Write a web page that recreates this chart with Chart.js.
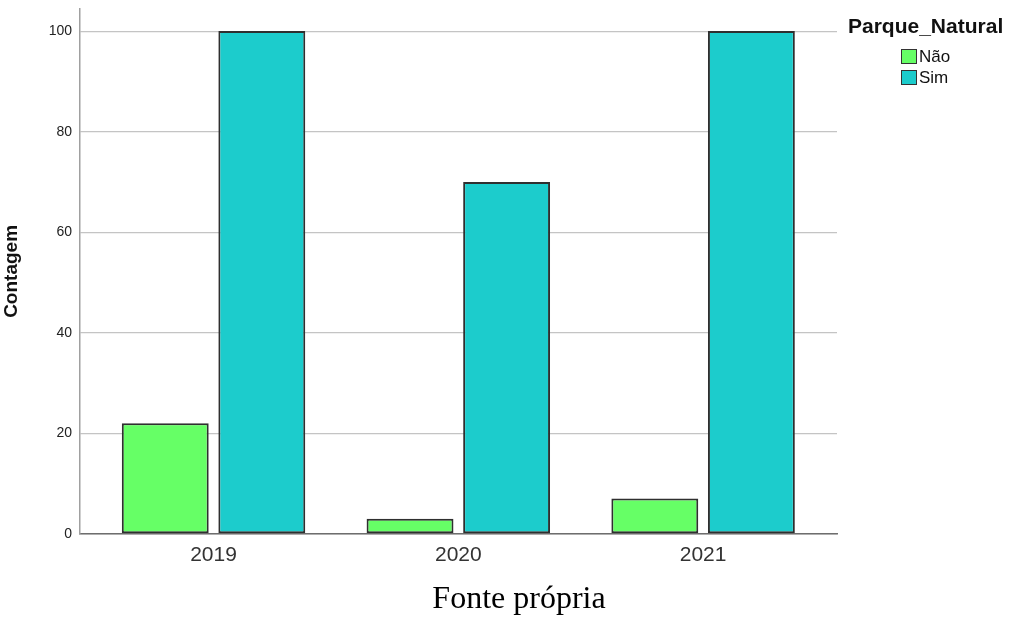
<!DOCTYPE html>
<html>
<head>
<meta charset="utf-8">
<script src="https://cdn.jsdelivr.net/npm/chart.js@4.4.1/dist/chart.umd.min.js"></script>
<style>
  body { margin: 0; background: #fff; }
  #wrap { position: relative; width: 1010px; height: 619px; }
  #legenda { position: absolute; left: 848px; top: 14px; font-family: "Liberation Sans", Arial, sans-serif; color: #111; }
  #legenda .titulo { font-size: 21px; font-weight: bold; white-space: nowrap; }
  #legenda .item { position: relative; left: 53px; height: 20px; font-size: 17px; line-height: 20px; }
  #legenda .item span.box { display: inline-block; width: 14px; height: 13px; border: 1.5px solid #333; vertical-align: -2px; margin-right: 2px; }
  #fonte { position: absolute; left: 0; width: 1038px; text-align: center; top: 579px; font-family: "Liberation Serif", "Times New Roman", serif; font-size: 32px; color: #000; }
</style>
</head>
<body>
<div id="wrap">
  <canvas id="chart"></canvas>
  <div id="legenda">
    <div class="titulo">Parque_Natural</div>
    <div class="item" style="margin-top:9px"><span class="box" style="background:#66ff66"></span>Não</div>
    <div class="item" style="margin-top:1px"><span class="box" style="background:#1ccccc"></span>Sim</div>
  </div>
  <div id="fonte">Fonte própria</div>
</div>
<script>
window.onload = function(){

  // dados
  var anos = [2019, 2020, 2021]
  var nao = [22, 3, 7]
  var sim = [100, 70, 100]
  var yTicks = [0, 20, 40, 60, 80, 100]

  var corNao = '#66ff66'
  var corSim = '#1ccccc'

  const ctx = document.getElementById('chart')

  var ChartSet = {
    type: 'bar',
    data: {
      labels: anos,
      datasets: [
        { label: 'Não', data: nao, backgroundColor: corNao, borderColor: '#2f2f2f', borderWidth: 2, borderSkipped: false },
        { label: 'Sim', data: sim, backgroundColor: corSim, borderColor: '#2f2f2f', borderWidth: 2, borderSkipped: false }
      ]
    },
    options: {
      responsive: true,
      maintainAspectRatio: false,
      animation: false,
      categoryPercentage: 0.789,
      barPercentage: 0.9,
      layout: { padding: { top: 9, right: 173, bottom: 42, left: 0 } },
      plugins: {
        legend: { display: false },
        tooltip: { enabled: false }
      },
      scales: {
        x: {
          type: 'linear',
          offset: false,
          min: 2018.4545,
          max: 2021.547,
          grid: { display: false, drawTicks: false },
          border: { display: true, color: '#6e6e6e', width: 1.5 },
          afterBuildTicks: function(scale){ scale.ticks = anos.map(function(a){ return { value: a } }) },
          ticks: {
            padding: 9,
            color: '#333',
            font: { family: 'Liberation Sans', size: 21 },
            callback: function(v){ return String(v) }
          }
        },
        y: {
          min: 0,
          max: 104.4,
          afterFit: function(scale){
            scale.width = 80
            scale.paddingTop = 0
            scale.paddingBottom = 0
          },
          afterBuildTicks: function(scale){ scale.ticks = yTicks.map(function(t){ return { value: t } }) },
          grid: { color: '#c4c4c4', lineWidth: 1.2, drawTicks: false },
          border: { display: true, color: '#a0a0a0', width: 1.5 },
          ticks: {
            padding: 8,
            color: '#222',
            font: { family: 'Liberation Sans', size: 14 }
          },
          title: {
            display: true,
            text: 'Contagem',
            color: '#111',
            padding: { top: 0, bottom: 0 },
            font: { family: 'Liberation Sans', size: 19, weight: 'bold' }
          }
        }
      }
    }
  }

  var ReportChart = new Chart(ctx, ChartSet)
}
</script>
</body>
</html>
